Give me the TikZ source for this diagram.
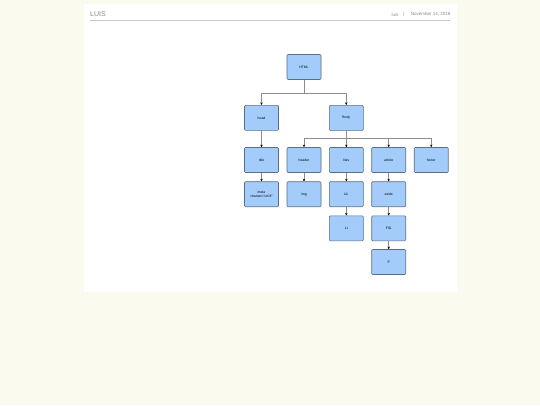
\documentclass[tikz,border=0pt]{standalone}
\usepackage{fontspec}
\setmainfont{Liberation Sans}
\usetikzlibrary{arrows.meta}
\definecolor{bgcream}{HTML}{FBFAEE}
\definecolor{boxfill}{HTML}{A3CCFA}
\definecolor{boxline}{HTML}{5C6E84}
\definecolor{connc}{HTML}{8C8C8C}
\definecolor{hdrgray}{HTML}{8A8A8A}
\tikzset{
  tag/.style={draw=boxline, fill=boxfill, line width=0.6pt, rounded corners=1pt,
    minimum width=34pt, minimum height=25pt, inner sep=0pt, align=center,
    font=\fontsize{3.4}{4}\selectfont},
  conn/.style={draw=connc, line width=0.6pt},
  arr/.style={conn, -{Stealth[length=2.6pt,width=2.4pt,color=black]}},
}
\begin{document}
\begin{tikzpicture}[x=1pt,y=-1pt]
\useasboundingbox (0,0) rectangle (540,405);
\fill[bgcream] (0,0) rectangle (540,405);
\fill[white] (83.5,4) rectangle (456.5,292);
% header
\node[anchor=west, inner sep=0pt, text=hdrgray, font=\fontsize{7}{8}\selectfont] (luis) at (90,14.3) {LUIS};
\draw[draw=black!22, line width=0.8pt] (90,20.3) -- (450,20.3);
\node[anchor=east, inner sep=0pt, text=black!45, font=\fontsize{4.5}{5}\selectfont] (date) at (450.5,14.5) {November 14, 2016};
\node[anchor=center, inner sep=0pt, text=black!45, font=\fontsize{4.5}{5}\selectfont] (bar) at (403.7,14.5) {|};
\node[anchor=east, inner sep=0pt, text=black!45, font=\fontsize{4.5}{5}\selectfont] (user) at (398.5,14.5) {luis};
% nodes
\node[tag] (html) at (304,67) {HTML};
\node[tag] (head) at (261.5,117.8) {head};
\node[tag] (body) at (346.3,117.8) {Body};
\node[tag] (title) at (261.5,160) {title};
\node[tag] (header) at (304,160) {header};
\node[tag] (nav) at (346.3,160) {Nav};
\node[tag] (article) at (388.7,160) {article};
\node[tag] (footer) at (431.2,160) {footer};
\node[tag] (meta) at (261.5,194.2) {meta\\charset="utf-8"};
\node[tag] (img) at (304,194.2) {img};
\node[tag] (ul) at (346.3,194.2) {UL};
\node[tag] (aside) at (388.7,194.2) {aside};
\node[tag] (li) at (346.3,228.3) {LI};
\node[tag] (fig) at (388.7,228.3) {FIG};
\node[tag] (p) at (388.7,262) {P};
% connectors
\coordinate (j1) at (304,93.3);
\coordinate (j2) at (346.3,138.3);
\draw[conn] (html.south) -- (j1);
\draw[arr] (j1) -| (head.north);
\draw[arr] (j1) -| (body.north);
\draw[conn] (body.south) -- (j2);
\draw[arr] (j2) -| (header.north);
\draw[arr] (j2) -- (nav.north);
\draw[arr] (j2) -| (article.north);
\draw[arr] (j2) -| (footer.north);
\draw[arr] (head) -- (title);
\draw[arr] (title) -- (meta);
\draw[arr] (header) -- (img);
\draw[arr] (nav) -- (ul);
\draw[arr] (ul) -- (li);
\draw[arr] (article) -- (aside);
\draw[arr] (aside) -- (fig);
\draw[arr] (fig) -- (p);
\end{tikzpicture}
\end{document}
